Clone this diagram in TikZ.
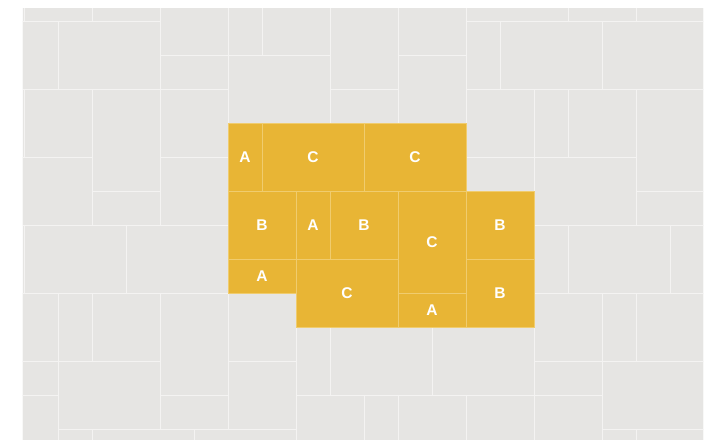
\documentclass[tikz,border=0pt]{standalone}
\usepackage{fontspec}
\setmainfont{Liberation Sans}
\definecolor{greyfill}{HTML}{E6E5E3}
\definecolor{greyline}{HTML}{F4F3F2}
\definecolor{yellowfill}{HTML}{E8B535}
\definecolor{yellowline}{HTML}{F0CC6E}
\begin{document}
\begin{tikzpicture}[x=1cm,y=-1cm,
  gtile/.style={fill=greyfill, draw=greyline, line width=0.7pt},
  ybox/.style={fill=yellowfill, draw=yellowline, line width=0.7pt, inner sep=0pt,
    text=white, font=\fontsize{13}{13}\selectfont\bfseries}]
\useasboundingbox[fill=white] (-24/34,-21/34) rectangle (20,424/34);
\begin{scope}
\clip (-1/34,-12/34) rectangle (679/34,419/34);
\fill[greyfill] (-1,-1) rectangle (21,14);
\foreach \c/\r/\w/\h in {
 0/-2/2/2, 2/-2/2/2, 4/-1/2/2, 6/-1/1/2, 7/-1/2/2, 9/-1/2/3, 11/-1/2/2, 13/-2/3/2, 16/-2/2/2, 18/-2/2/2,
 -1/0/2/2, 1/0/3/2, 4/1/2/1, 6/1/3/2, 11/1/2/2, 13/0/1/2, 14/0/3/2, 17/0/3/2,
 0/2/2/2, 2/2/2/3, 4/2/2/2, 9/2/2/1, 13/2/2/2, 15/2/1/2, 16/2/2/2, 18/2/2/3,
 -1/4/3/2, 4/4/2/2, 13/4/2/1, 15/4/3/2,
 2/5/2/1, 18/5/2/1,
 0/6/3/2, 3/6/3/2, 15/6/1/2, 16/6/3/2, 19/6/1/2,
 -1/8/2/2, 1/8/1/2, 2/8/2/2, 4/8/2/3, 6/8/2/2, 15/8/2/2, 17/8/1/2, 18/8/2/2,
 8/9/1/2, 9/9/3/2, 12/9/3/2,
 -1/10/2/1, 1/10/3/2, 6/10/2/2, 15/10/2/1, 17/10/3/2,
 -1/11/2/2, 4/11/2/1, 8/11/2/2, 10/11/1/2, 11/11/2/2, 13/11/2/2, 15/11/2/2,
 1/12/1/2, 2/12/3/2, 5/12/3/2, 17/12/1/2, 18/12/2/2}
  \draw[gtile] (\c,\r) rectangle ++(\w,\h);
\end{scope}
\node[ybox, minimum width=1cm, minimum height=2cm] (a1) at (6.5,4) {A};
\node[ybox, minimum width=3cm, minimum height=2cm] (c1) at (8.5,4) {C};
\node[ybox, minimum width=3cm, minimum height=2cm] (c2) at (11.5,4) {C};
\node[ybox, minimum width=2cm, minimum height=2cm] (b1) at (7,6) {B};
\node[ybox, minimum width=1cm, minimum height=2cm] (a2) at (8.5,6) {A};
\node[ybox, minimum width=2cm, minimum height=2cm] (b2) at (10,6) {B};
\node[ybox, minimum width=2cm, minimum height=3cm] (c3) at (12,6.5) {C};
\node[ybox, minimum width=2cm, minimum height=2cm] (b3) at (14,6) {B};
\node[ybox, minimum width=2cm, minimum height=1cm] (a3) at (7,7.5) {A};
\node[ybox, minimum width=3cm, minimum height=2cm] (c4) at (9.5,8) {C};
\node[ybox, minimum width=2cm, minimum height=1cm] (a4) at (12,8.5) {A};
\node[ybox, minimum width=2cm, minimum height=2cm] (b4) at (14,8) {B};
\end{tikzpicture}
\end{document}
